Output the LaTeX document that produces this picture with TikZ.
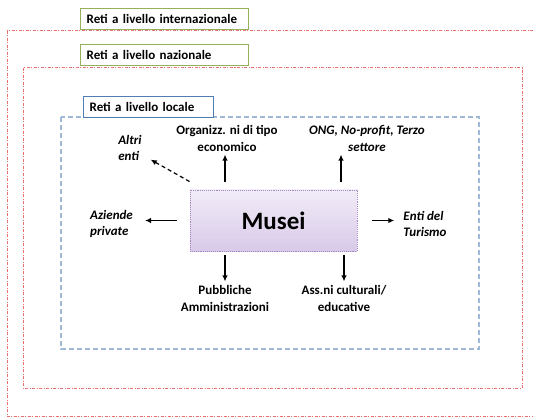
\documentclass[tikz,border=0pt]{standalone}
\usepackage{fontspec}
\setmainfont{Carlito}
\usetikzlibrary{arrows.meta}

\definecolor{netred}{RGB}{236,110,110}
\definecolor{netblue}{RGB}{160,185,212}
\definecolor{levgreen}{RGB}{150,175,90}
\definecolor{levblue}{RGB}{80,125,180}
\definecolor{museitop}{RGB}{242,236,248}
\definecolor{museibot}{RGB}{216,202,232}
\definecolor{museiline}{RGB}{165,135,200}

\tikzset{
    netframe/.style={draw=netred, line width=1pt, dash pattern=on 3pt off 1.5pt on 1pt off 1.5pt},
    localframe/.style={draw=netblue, line width=1.2pt, dash pattern=on 5pt off 3pt},
    level/.style={anchor=north west, line width=1.3pt, fill=white, minimum height=21pt, inner xsep=6pt, align=left},
    actor/.style={align=center, inner sep=1pt},
    other/.style={actor, font=\fontsize{13}{16.5}\selectfont\bfseries\itshape},
    link/.style={->, line width=1.2pt},
}

\begin{document}
\begin{tikzpicture}[x=1pt, y=-1pt, font=\fontsize{13}{16.5}\selectfont\bfseries, >={Latex[length=6pt,width=5.5pt]}]
    \useasboundingbox (0,0) rectangle (533,417);
    \clip (0,0) rectangle (533,417);

    % frames
    \draw[netframe] (7,31) rectangle (560,416.5);
    \draw[netframe] (23,68) rectangle (522,388);
    \draw[localframe] (61,117) rectangle (479,349);

    \node[level, draw=levgreen, text width=156pt] (intl) at (80,8) {Reti a livello internazionale};
    \node[level, draw=levgreen, text width=156pt] (naz) at (80,44) {Reti a livello nazionale};
    \node[level, draw=levblue, text width=118pt] (loc) at (83,96) {Reti a livello locale};

    \node[draw=museiline, densely dotted, line width=0.9pt, top color=museitop, bottom color=museibot, minimum width=167pt, minimum height=61pt, font=\fontsize{25}{28}\selectfont\bfseries] (musei) at (273.5,220.5) {Musei};

    \node[actor] (org) at (227,138.5) {Organizz. ni di tipo\\economico};
    \node[other] (ong) at (367,138.5) {ONG, No-profit, Terzo\\settore};
    \node[other, align=left] (altri) at (130,148) {Altri\\enti};
    \node[other, align=left] (aziende) at (111.5,224) {Aziende\\private};
    \node[other, align=left] (turismo) at (425,224) {Enti del\\Turismo};
    \node[actor] (pa) at (225,298.5) {Pubbliche\\Amministrazioni};
    \node[actor] (ass) at (344,298.5) {Ass.ni culturali/\\educative};

    \draw[link, shorten <=8pt, shorten >=2pt] ([xshift=-48.5pt]musei.north) to ([xshift=-2pt]org.south);
    \draw[link, shorten <=8pt, shorten >=2pt] ([xshift=67.5pt]musei.north) to ([xshift=-26pt]ong.south);
    \draw[link, dash pattern=on 4pt off 3pt, shorten >=9pt] ([yshift=8pt]musei.north west) to (altri);
    \draw[link, shorten <=13pt, shorten >=11pt] (musei.west) to (aziende.east |- musei.west);
    \draw[link, shorten <=15pt, shorten >=8pt] (musei.east) to (turismo.west |- musei.east);
    \draw[link, shorten <=4pt, shorten >=3pt] (musei.south -| pa) to (pa);
    \draw[link, shorten <=4pt, shorten >=3pt] (musei.south -| ass) to (ass);
\end{tikzpicture}
\end{document}
